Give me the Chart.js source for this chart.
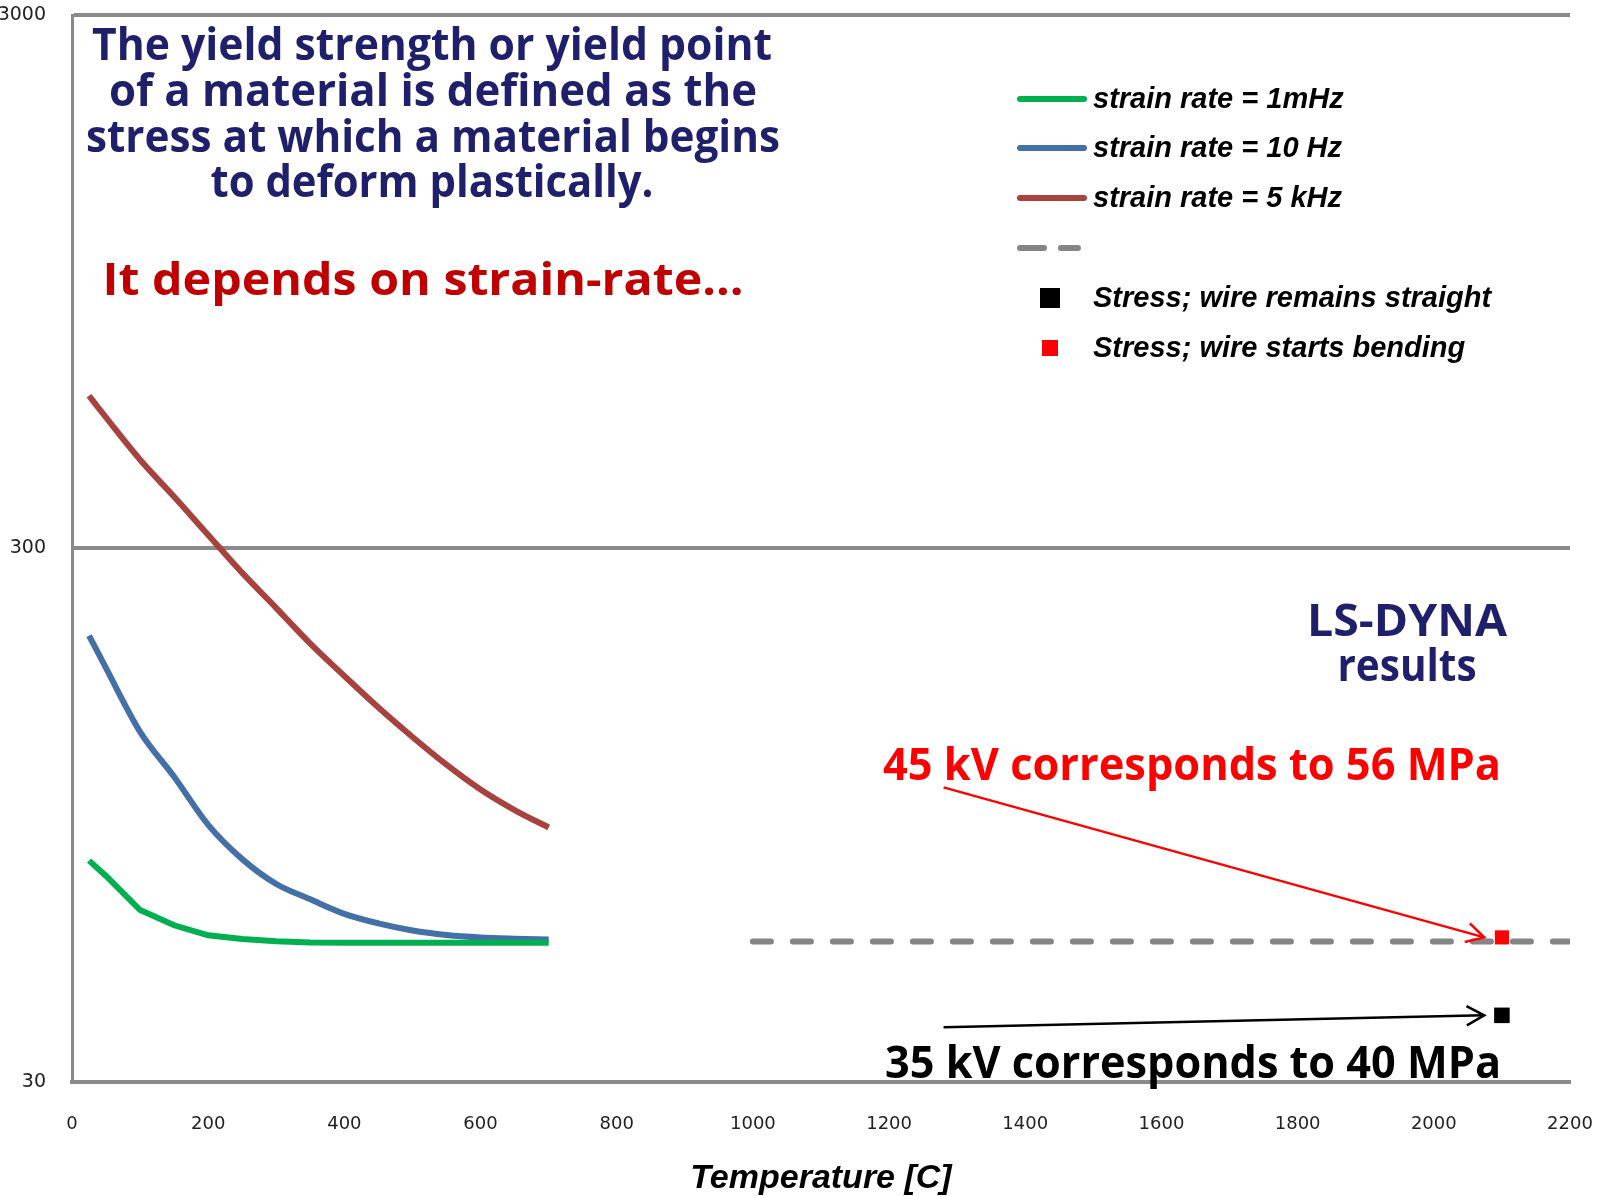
<!DOCTYPE html>
<html>
<head>
<meta charset="utf-8">
<script src="https://cdn.jsdelivr.net/npm/chart.js@4.4.1/dist/chart.umd.min.js"></script>
<style>
  body { margin: 0; background: #fff; }
</style>
</head>
<body>
<canvas id="grafico" width="1610" height="1196"></canvas>
<script>
// temperatura [C] e tensão de escoamento [MPa] por taxa de deformação
const temperaturas = [25, 50, 100, 150, 200, 250, 300, 350, 400, 450, 500, 550, 600, 650, 700];
const taxa1mHz = [78, 73, 63, 59, 56.5, 55.6, 55.1, 54.8, 54.7, 54.7, 54.7, 54.7, 54.7, 54.7, 54.7];
const taxa10Hz = [206, 179, 136, 112, 91, 78.5, 70.5, 66, 62, 59.5, 57.7, 56.6, 56, 55.7, 55.5];
const taxa5kHz = [580, 528, 440, 375, 318, 270, 232, 199, 173, 151, 133, 118, 106, 97, 90];

// limite tracejado e resultados do LS-DYNA
const tempsLimite = [1000, 2200];
const tensaoLimite = [55, 55];
const tempFioReto = [2100];
const tensaoFioReto = [40];
const tempFioDobra = [2100];
const tensaoFioDobra = [56];

const ticksX = [0, 200, 400, 600, 800, 1000, 1200, 1400, 1600, 1800, 2000, 2200];
const ticksY = [30, 300, 3000];

const pontos = (xs, ys) => xs.map((x, i) => ({ x: x, y: ys[i] }));

const datasets = [
  { label: 'strain rate = 1mHz', data: pontos(temperaturas, taxa1mHz), borderColor: '#00b050', borderWidth: 6, showLine: true, pointRadius: 0, tipo: 'linha' },
  { label: 'strain rate = 10 Hz', data: pontos(temperaturas, taxa10Hz), borderColor: '#4470a8', borderWidth: 6, showLine: true, pointRadius: 0, cubicInterpolationMode: 'monotone', tipo: 'linha' },
  { label: 'strain rate = 5 kHz', data: pontos(temperaturas, taxa5kHz), borderColor: '#a8423f', borderWidth: 6, showLine: true, pointRadius: 0, cubicInterpolationMode: 'monotone', tipo: 'linha' },
  { label: '', data: pontos(tempsLimite, tensaoLimite), borderColor: '#858585', borderWidth: 6, borderDash: [18, 22], borderCapStyle: 'round', showLine: true, pointRadius: 0, tipo: 'tracejado' },
  { label: 'Stress; wire remains straight', data: pontos(tempFioReto, tensaoFioReto), backgroundColor: '#000', borderColor: '#000', pointStyle: 'rect', pointRadius: 11, borderWidth: 0, tipo: 'quadrado' },
  { label: 'Stress; wire starts bending', data: pontos(tempFioDobra, tensaoFioDobra), backgroundColor: '#ff0000', borderColor: '#ff0000', pointStyle: 'rect', pointRadius: 10, borderWidth: 0, tipo: 'quadrado' }
];

function seta(ctx, x0, y0, x1, y1, cor) {
  ctx.strokeStyle = cor;
  ctx.lineWidth = 2.5;
  ctx.beginPath();
  ctx.moveTo(x0, y0);
  ctx.lineTo(x1, y1);
  ctx.stroke();
  const ang = Math.atan2(y1 - y0, x1 - x0);
  const len = 20, ab = 0.5;
  ctx.beginPath();
  ctx.moveTo(x1 - len * Math.cos(ang - ab), y1 - len * Math.sin(ang - ab));
  ctx.lineTo(x1, y1);
  ctx.lineTo(x1 - len * Math.cos(ang + ab), y1 - len * Math.sin(ang + ab));
  ctx.stroke();
}

// texto centrado e esticado até a largura pedida
function textoLargo(ctx, texto, cx, y, largura) {
  const w = ctx.measureText(texto).width;
  ctx.save();
  ctx.translate(cx, y);
  ctx.scale(largura / w, 1);
  ctx.fillText(texto, 0, 0);
  ctx.restore();
}

// textos, setas e legenda desenhados por cima do gráfico
const anotacoes = {
  id: 'anotacoes',
  afterDraw(chart) {
    const ctx = chart.ctx;
    const sx = chart.scales.x, sy = chart.scales.y;
    ctx.save();
    ctx.textAlign = 'center';
    ctx.textBaseline = 'alphabetic';

    ctx.font = 'bold 44px "Open Sans"';
    ctx.fillStyle = '#1f1f6b';
    textoLargo(ctx, 'The yield strength or yield point', 432, 60, 680);
    textoLargo(ctx, 'of a material is defined as the', 433, 106, 648);
    textoLargo(ctx, 'stress at which a material begins', 433, 152, 694);
    textoLargo(ctx, 'to deform plastically.', 432, 197, 443);
    ctx.fillStyle = '#c00000';
    textoLargo(ctx, 'It depends on strain-rate…', 423, 295, 641);

    ctx.fillStyle = '#1f1f6b';
    textoLargo(ctx, 'LS-DYNA', 1407, 636, 200);
    textoLargo(ctx, 'results', 1407, 681, 139);

    ctx.fillStyle = '#ff0000';
    textoLargo(ctx, '45 kV corresponds to 56 MPa', 1192, 780, 618);
    ctx.fillStyle = '#000';
    textoLargo(ctx, '35 kV corresponds to 40 MPa', 1193, 1078, 616);

    // setas apontando para os resultados
    seta(ctx, sx.getPixelForValue(1280), sy.getPixelForValue(107),
      sx.getPixelForValue(2074), sy.getPixelForValue(tensaoFioDobra[0]), '#ff0000');
    seta(ctx, sx.getPixelForValue(1280), sy.getPixelForValue(38),
      sx.getPixelForValue(2074), sy.getPixelForValue(tensaoFioReto[0]), '#000');

    // legenda
    const linhasY = [99, 148, 198, 248, 298, 348];
    ctx.textAlign = 'left';
    ctx.textBaseline = 'middle';
    ctx.font = 'italic bold 29px "Liberation Sans"';
    chart.data.datasets.forEach((ds, i) => {
      const y = linhasY[i];
      ctx.save();
      if (ds.tipo === 'linha') {
        ctx.strokeStyle = ds.borderColor;
        ctx.lineWidth = 6;
        ctx.lineCap = 'round';
        ctx.beginPath(); ctx.moveTo(1020, y); ctx.lineTo(1084, y); ctx.stroke();
      } else if (ds.tipo === 'tracejado') {
        ctx.strokeStyle = ds.borderColor;
        ctx.lineWidth = 6;
        ctx.lineCap = 'round';
        ctx.beginPath(); ctx.moveTo(1020, y); ctx.lineTo(1044, y);
        ctx.moveTo(1061, y); ctx.lineTo(1078, y); ctx.stroke();
      } else {
        ctx.fillStyle = ds.backgroundColor;
        const lado = i === 4 ? 20 : 16;
        ctx.fillRect(1050 - lado / 2, y - lado / 2, lado, lado);
      }
      ctx.restore();
      ctx.fillStyle = '#000';
      ctx.fillText(ds.label, 1093, y + 1);
    });
    ctx.restore();
  }
};

const ctx = document.getElementById('grafico').getContext('2d');
new Chart(ctx, {
  type: 'scatter',
  data: { datasets: datasets },
  plugins: [anotacoes],
  options: {
    responsive: false,
    animation: false,
    layout: { padding: { top: 15, right: 40, left: 0, bottom: 0 } },
    plugins: { legend: { display: false }, tooltip: { enabled: false } },
    scales: {
      x: {
        type: 'linear',
        min: 0,
        max: 2200,
        afterBuildTicks: s => { s.ticks = ticksX.map(v => ({ value: v })); },
        afterFit: s => { s.height = 114; s.paddingLeft = 0; s.paddingRight = 0; },
        grid: { display: false, drawTicks: false },
        border: { display: true, color: '#8a8a8a', width: 4 },
        ticks: { padding: 32, color: '#222', font: { family: 'DejaVu Sans', size: 18 }, maxRotation: 0, callback: v => String(v) },
        title: {
          display: true,
          text: 'Temperature [C]',
          color: '#000',
          font: { family: 'Liberation Sans', size: 34, weight: 'bold', style: 'italic', lineHeight: 1 },
          padding: { top: 0, bottom: 0 }
        }
      },
      y: {
        type: 'logarithmic',
        min: 30,
        max: 3000,
        afterBuildTicks: s => { s.ticks = ticksY.map(v => ({ value: v })); },
        afterFit: s => { s.width = 72; s.paddingTop = 0; s.paddingBottom = 0; },
        grid: { color: '#8a8a8a', lineWidth: 4, drawTicks: false },
        border: { display: true, color: '#8a8a8a', width: 3 },
        ticks: { padding: 26, color: '#222', font: { family: 'DejaVu Sans', size: 19 }, callback: v => String(v) }
      }
    }
  }
});
</script>
</body>
</html>
